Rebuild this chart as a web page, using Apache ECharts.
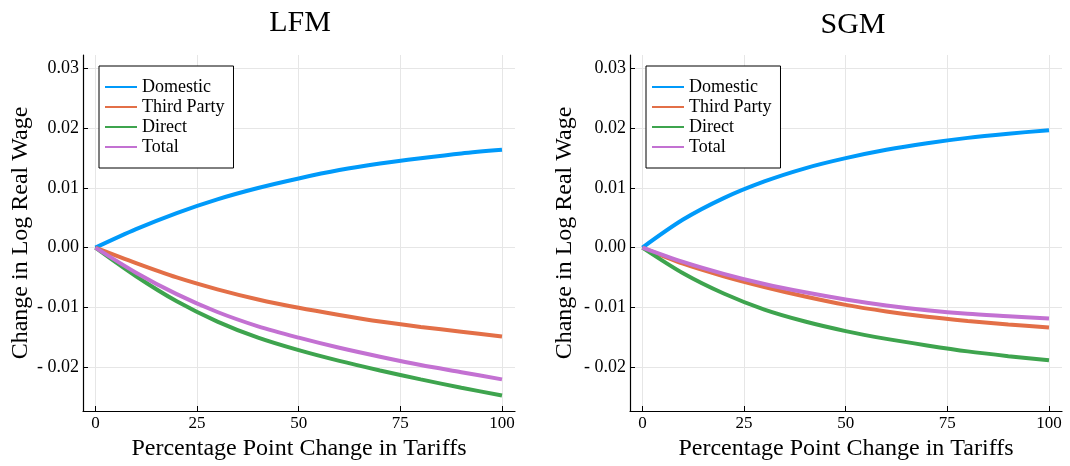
<!DOCTYPE html>
<html>
<head>
<meta charset="utf-8">
<script src="https://cdn.jsdelivr.net/npm/echarts@6/dist/echarts.min.js"></script>
<style>
  html, body { margin: 0; padding: 0; background: #fff; }
  #chart { width: 1070px; height: 466px; }
</style>
</head>
<body>
<div id="chart"></div>
<script>
// Tariff change (percentage points) at which each curve is sampled
const tariffs = [0, 10, 20, 30, 40, 50, 60, 70, 80, 90, 100];

// LFM panel: change in log real wage
const lfmDomestic   = [0, 0.0031, 0.0058, 0.0081, 0.0100, 0.0116, 0.0130, 0.0141, 0.0150, 0.0158, 0.0164];
const lfmThirdParty = [0, -0.0026, -0.0050, -0.0070, -0.0087, -0.0101, -0.0113, -0.0124, -0.0133, -0.0141, -0.0149];
const lfmDirect     = [0, -0.0048, -0.0090, -0.0124, -0.0151, -0.0172, -0.0190, -0.0206, -0.0221, -0.0235, -0.0248];
const lfmTotal      = [0, -0.0042, -0.0078, -0.0108, -0.0132, -0.0151, -0.0168, -0.0183, -0.0197, -0.0209, -0.0221];

// SGM panel: change in log real wage
const sgmDomestic   = [0, 0.0047, 0.0083, 0.0111, 0.0133, 0.0150, 0.0164, 0.0175, 0.0184, 0.0191, 0.0197];
const sgmThirdParty = [0, -0.0027, -0.0048, -0.0066, -0.0082, -0.0096, -0.0107, -0.0116, -0.0123, -0.0129, -0.0134];
const sgmDirect     = [0, -0.0043, -0.0077, -0.0104, -0.0124, -0.0140, -0.0153, -0.0164, -0.0174, -0.0182, -0.0189];
const sgmTotal      = [0, -0.0024, -0.0044, -0.0061, -0.0075, -0.0087, -0.0097, -0.0105, -0.0111, -0.0115, -0.0119];

const seriesNames = ['Domestic', 'Third Party', 'Direct', 'Total'];
const panelTitles = ['LFM', 'SGM'];
const xTicks = [0, 25, 50, 75, 100];
const yTicks = [-0.02, -0.01, 0.00, 0.01, 0.02, 0.03];
const xTitle = 'Percentage Point Change in Tariffs';
const yTitle = 'Change in Log Real Wage';

const colors = ['#009AFA', '#E36F47', '#3EA44E', '#C371D2'];
const FONT = 'Liberation Serif';

const panels = [
  [lfmDomestic, lfmThirdParty, lfmDirect, lfmTotal],
  [sgmDomestic, sgmThirdParty, sgmDirect, sgmTotal]
];

const gridLefts = [83, 630];
const yNameGaps = [49, 53];
const titleX = [300, 853];
const titleY = [23, 25];

function yLabel(v) {
  if (Math.abs(v) < 1e-12) return '0.00';
  return v < 0 ? '- ' + Math.abs(v).toFixed(2) : v.toFixed(2);
}

const grids = gridLefts.map(l => ({ left: l, top: 55, width: 432, height: 356 }));

const xAxes = gridLefts.map((l, i) => ({
  type: 'value', gridIndex: i, min: -3.05, max: 103.2,
  name: xTitle, nameLocation: 'middle', nameGap: 24,
  nameTextStyle: { fontFamily: FONT, fontSize: 24, color: '#000' },
  axisLine: { show: true, onZero: false, lineStyle: { color: '#000', width: 1.2 } },
  axisTick: { show: true, inside: true, length: 5, customValues: xTicks, lineStyle: { color: '#000' } },
  axisLabel: { customValues: xTicks, margin: 4, fontFamily: FONT, fontSize: 17, color: '#000' },
  splitLine: { show: true, lineStyle: { color: '#e6e6e6', width: 1 } }
}));

const yAxes = gridLefts.map((l, i) => ({
  type: 'value', gridIndex: i, min: -0.0274, max: 0.0323,
  name: yTitle, nameLocation: 'middle', nameGap: yNameGaps[i], nameRotate: 90,
  nameTextStyle: { fontFamily: FONT, fontSize: 24, color: '#000' },
  axisLine: { show: true, onZero: false, lineStyle: { color: '#000', width: 1.2 } },
  axisTick: { show: true, inside: true, length: 5, customValues: yTicks, lineStyle: { color: '#000' } },
  axisLabel: { customValues: yTicks, margin: 4, fontFamily: FONT, fontSize: 18, color: '#000', formatter: yLabel },
  splitLine: { show: true, lineStyle: { color: '#e6e6e6', width: 1 } }
}));

const series = [];
panels.forEach((panel, p) => {
  panel.forEach((vals, k) => {
    series.push({
      name: seriesNames[k], type: 'line', xAxisIndex: p, yAxisIndex: p,
      data: tariffs.map((t, j) => [t, vals[j]]),
      smooth: 0.3, symbol: 'none', silent: true,
      color: colors[k],
      lineStyle: { width: 4, color: colors[k] },
      z: 2 + k
    });
  });
});

const legends = gridLefts.map(l => ({
  data: seriesNames, orient: 'vertical', left: l + 16, top: 66,
  icon: 'rect', itemWidth: 32, itemHeight: 2, itemGap: 2,
  padding: [12, 9, 12, 6],
  borderColor: '#000', borderWidth: 1, backgroundColor: '#fff',
  textStyle: { fontFamily: FONT, fontSize: 18, lineHeight: 18, color: '#000' },
  selectedMode: false
}));

const titles = panelTitles.map((t, i) => ({
  type: 'text', x: titleX[i], y: titleY[i],
  style: { text: t, fontFamily: FONT, fontSize: 30, fill: '#000', align: 'center', verticalAlign: 'middle' }
}));

const chart = echarts.init(document.getElementById('chart'), null, { renderer: 'canvas' });
chart.setOption({
  animation: false,
  backgroundColor: '#fff',
  grid: grids,
  xAxis: xAxes,
  yAxis: yAxes,
  legend: legends,
  graphic: titles,
  series: series
});
</script>
</body>
</html>
